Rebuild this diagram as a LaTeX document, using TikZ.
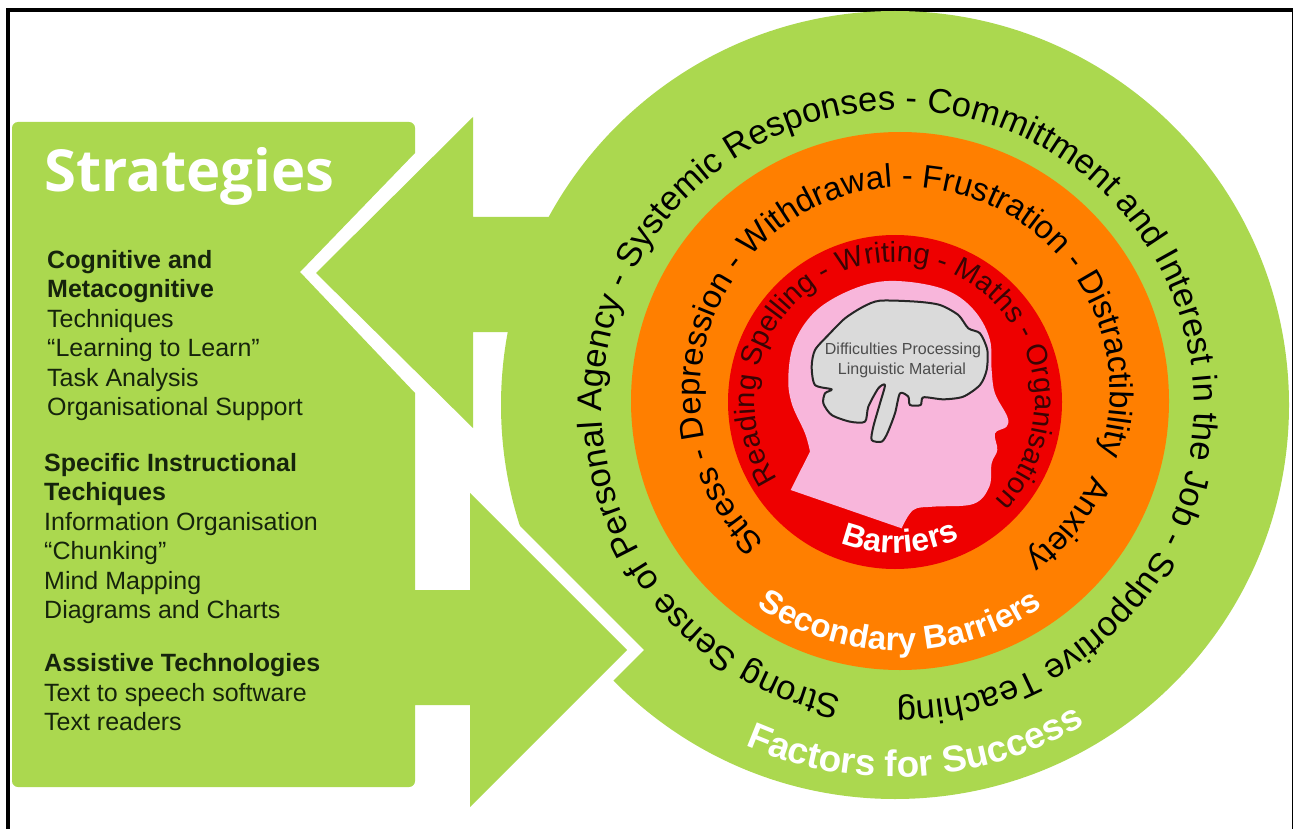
\documentclass[tikz,border=0pt]{standalone}
\usepackage{fontspec}
\setmainfont{Liberation Sans}
\newfontfamily\titlefont{Open Sans}
\usetikzlibrary{decorations.text}
\definecolor{leaf}{HTML}{ABD84F}
\definecolor{tangerine}{HTML}{FF7F00}
\definecolor{ringred}{HTML}{EE0000}
\definecolor{skin}{HTML}{F8B6DB}
\definecolor{brainfill}{HTML}{DADADA}
\definecolor{darkred}{HTML}{3A0404}
\definecolor{inkgreen}{HTML}{16240C}
\newcommand{\outerfont}{\fontsize{34.5}{35}\selectfont}
\newcommand{\middlefont}{\fontsize{32.7}{33}\selectfont}
\newcommand{\innerfont}{\fontsize{29}{29}\selectfont\color{darkred}}
\tikzstyle{plain}=[anchor=base west,font=\fontsize{25}{25}\selectfont,text=inkgreen,inner sep=0pt]
\tikzstyle{bold}=[plain,font=\fontsize{25}{25}\selectfont\bfseries]
\tikzstyle{brainlabel}=[anchor=base,font=\fontsize{16}{16}\selectfont,text=black!70,inner sep=0pt]
\tikzstyle{greenshape}=[fill=leaf]
\begin{document}
\begin{tikzpicture}[x=1pt,y=-1pt]
			\useasboundingbox (0,0) rectangle (1293,829);
			\coordinate (outer) at (895,405);
			\coordinate (outertext) at (898,406);
			\coordinate (middle) at (905,392);
			\coordinate (inner) at (895,402);
			%Adding the frame
			\draw[black,line width=4pt] (8,829) -- (8,10) -- (1293,10);
			\draw[black,line width=1.5pt] (1292.3,10) -- (1292.3,829);
			%Adding the big circle with its arrow
			\fill[greenshape] (outer) circle (394);
			\fill[greenshape] (316,273) -- (473,117) -- (473,217) -- (600,217) -- (600,332) -- (473,332) -- (473,428) -- cycle;
			\draw[white,line width=24pt] (470,493) -- (627,650) -- (470,807);
			%Adding the strategies panel
			\fill[greenshape,rounded corners=6pt] (12,122) -- (415,122) [sharp corners] -- (415,153) -- (300,272) -- (415,393) -- (415,590) -- (470,590) -- (470,493) -- (627,650) -- (470,807) -- (470,705) -- (415,705) [rounded corners=6pt] -- (415,787) -- (12,787) -- cycle;
			%Adding the rings
			\fill[tangerine] (900,401) circle (269);
			\fill[ringred] (inner) circle (167);
			%Adding the head
			\begin{scope}[shift={(720,230)},x=0.3333pt,y=-0.3333pt]
				\fill[skin] (212,780) -- plot[smooth,tension=0.6] coordinates {(270,665) (255,610) (215,520) (205,440) (222,340) (280,250) (370,190) (480,155) (600,160) (700,190) (770,250) (810,330) (815,420) (825,490) (862,560) (860,590) (825,610) (832,660) (815,700) (808,770) (760,822) (640,830) (580,840) (545,895)} -- cycle;
			\end{scope}
			%Adding the brain
			\begin{scope}[shift={(800,290)},x=0.3333pt,y=-0.3333pt]
				\filldraw[fill=brainfill,draw=black!85,line width=2pt,line join=round] plot[smooth cycle,tension=0.45] coordinates {(35,230) (45,180) (85,135) (135,85) (190,50) (240,32) (350,35) (420,45) (475,75) (505,115) (540,130) (562,180) (560,240) (540,285) (490,320) (430,328) (370,322) (362,345) (330,345) (325,320) (300,310) (285,370) (262,430) (245,455) (215,450) (220,410) (240,340) (255,285) (235,295) (205,350) (195,395) (150,395) (95,375) (70,340) (75,310) (95,298) (45,285)};
			\end{scope}
			\foreach \pos/\name/\words in 	{{(903,354)/difficulties/Difficulties Processing},
									 {(902,374)/linguistic/Linguistic Material}}
			\node[brainlabel] (\name) at \pos {\words};
			%Adding the ring texts
			\path[decorate,decoration={text along path,text align=left,text={|\outerfont|Strong Sense of Personal Agency - Systemic Responses - Committment and Interest in the Job - Supportive Teaching}}]
				([shift={(101:296)}]outertext) arc[start angle=101,end angle=455,radius=296];
			\path[decorate,decoration={text along path,text align=left,text={|\middlefont|Stress - Depression - Withdrawal - Frustration - Distractibility}}]
				([shift={(133:205)}]middle) arc[start angle=133,end angle=395,radius=205];
			\path[decorate,decoration={text along path,text align=left,text={|\middlefont|Anxiety}}]
				([shift={(24:205)}]middle) arc[start angle=24,end angle=80,radius=205];
			\path[decorate,decoration={text along path,text align=left,text={|\innerfont|Reading Spelling - Writing - Maths - Organisation}}]
				([shift={(146.5:140)}]inner) arc[start angle=146.5,end angle=415,radius=140];
			\path[decorate,decoration={text along path,text align=center,text={|\fontsize{32}{32}\selectfont\bfseries\color{white}|Barriers}}]
				([shift={(118:151)}]inner) arc[start angle=118,end angle=58,radius=151];
			\path[decorate,decoration={text along path,text align=center,text={|\fontsize{33}{33}\selectfont\bfseries\color{white}|Secondary Barriers}}]
				([shift={(128:250)}]900,401) arc[start angle=128,end angle=52,radius=250];
			\path[decorate,decoration={text along path,text align=center,text={|\fontsize{37}{37}\selectfont\bfseries\color{white}|Factors for Success}}]
				([shift={(116.5:372)}]outer) arc[start angle=116.5,end angle=56.5,radius=372];
			%Adding the strategies text
			\node[anchor=base west,inner sep=0pt,text=white] (title) at (44,192) {\fontsize{58}{58}\selectfont\titlefont\bfseries Strategies};
			\foreach \pos/\name/\words in 	{{(47,268)/cognitive/Cognitive and},	{(47,297)/metacognitive/Metacognitive},
									 {(44,471)/specific/Specific Instructional},	{(44,500)/techiques/Techiques},
									 {(44,671)/assistive/Assistive Technologies}}
			\node[bold] (\name) at \pos {\words};
			\foreach \pos/\name/\words in 	{{(47,327)/techniques/Techniques},	{(47,356)/learning/“Learning to Learn”},
									 {(47,386)/task/Task Analysis},	{(47,415)/support/Organisational Support},
									 {(44,530)/information/Information Organisation},	{(44,559)/chunking/“Chunking”},
									 {(44,589)/mapping/Mind Mapping},	{(44,618)/diagrams/Diagrams and Charts},
									 {(44,701)/speech/Text to speech software},	{(44,730)/readers/Text readers}}
			\node[plain] (\name) at \pos {\words};
		\end{tikzpicture}
\end{document}
